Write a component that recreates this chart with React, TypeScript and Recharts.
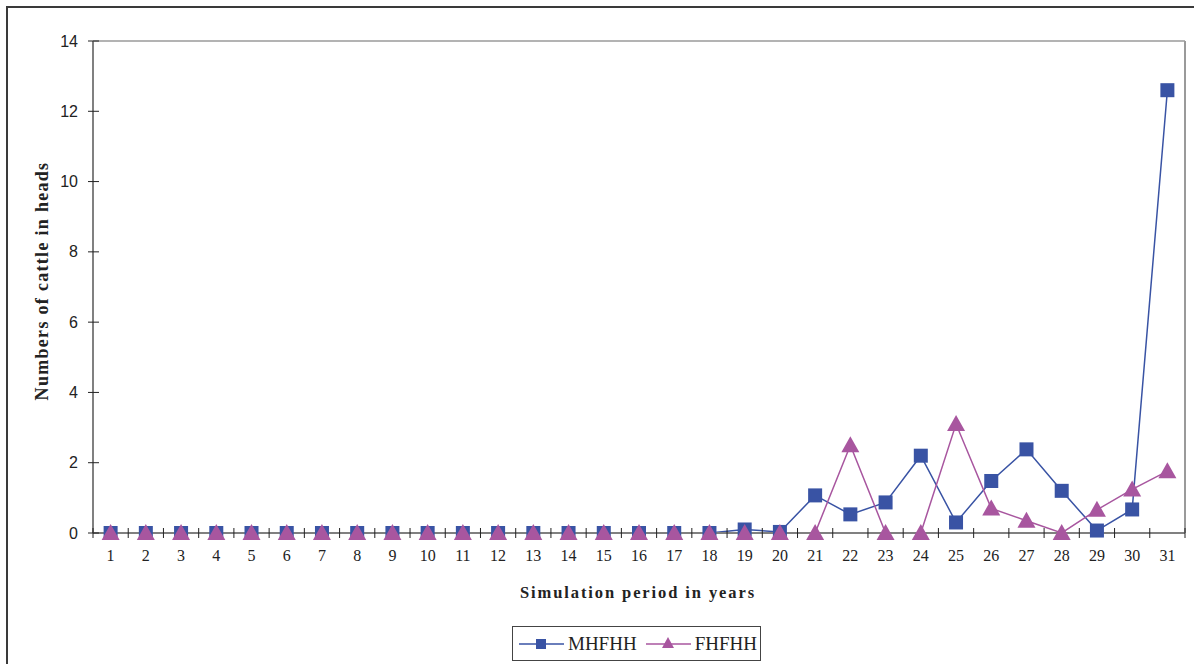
import React from "react";
import { LineChart, Line, XAxis, YAxis, ReferenceLine } from "recharts";

const years = [1,2,3,4,5,6,7,8,9,10,11,12,13,14,15,16,17,18,19,20,21,22,23,24,25,26,27,28,29,30,31];
const mhfhh = [0,0,0,0,0,0,0,0,0,0,0,0,0,0,0,0,0,0,0.1,0.03,1.07,0.53,0.87,2.2,0.3,1.48,2.38,1.2,0.07,0.67,12.6];
const fhfhh = [0,0,0,0,0,0,0,0,0,0,0,0,0,0,0,0,0,0,0,0,0,2.5,0,0,3.1,0.7,0.35,0,0.66,1.24,1.76];
const yTicks = [0,2,4,6,8,10,12,14];
const xBoundaries = [0.5,1.5,2.5,3.5,4.5,5.5,6.5,7.5,8.5,9.5,10.5,11.5,12.5,13.5,14.5,15.5,16.5,17.5,18.5,19.5,20.5,21.5,22.5,23.5,24.5,25.5,26.5,27.5,28.5,29.5,30.5,31.5];
const xTicks = [...years, ...xBoundaries].sort((a, b) => a - b);

const BLUE = "#3953A4";
const PURPLE = "#A8569F";

const data = years.map((y, i) => ({ year: y, MHFHH: mhfhh[i], FHFHH: fhfhh[i] }));

const SquareDot = (props: any) => {
  const { cx, cy } = props;
  if (cx == null || cy == null) return null;
  return <rect x={cx - 7} y={cy - 7} width={14} height={14} fill={BLUE} />;
};

const TriangleDot = (props: any) => {
  const { cx, cy } = props;
  if (cx == null || cy == null) return null;
  return <polygon points={`${cx},${cy - 9} ${cx - 9},${cy + 7} ${cx + 9},${cy + 7}`} fill={PURPLE} />;
};

const XTick = (props: any) => {
  const { x, y, payload } = props;
  const v = payload.value;
  if (Number.isInteger(v)) {
    return (
      <text x={x} y={y + 28} textAnchor="middle" fontFamily="'Liberation Serif', 'Times New Roman', serif" fontSize={16} fill="#222">
        {v}
      </text>
    );
  }
  return <line x1={x} x2={x} y1={y - 5} y2={y + 5} stroke="#222" strokeWidth={1} />;
};

const YTick = (props: any) => {
  const { x, y, payload } = props;
  return (
    <g>
      <line x1={x - 5} x2={x + 6} y1={y} y2={y} stroke="#222" strokeWidth={1} />
      <text x={x - 15} y={y + 5.5} textAnchor="end" fontFamily="'Liberation Sans', Arial, sans-serif" fontSize={16} fill="#222">
        {payload.value}
      </text>
    </g>
  );
};

const legendItems = [
  { name: "MHFHH", color: BLUE, shape: "square" },
  { name: "FHFHH", color: PURPLE, shape: "triangle" },
];

export default function App() {
  return (
    <div style={{ position: "fixed", left: 0, top: 0, width: 1194, height: 664, overflow: "hidden", background: "#fff" }}>
      <div style={{ position: "absolute", left: 6, top: 6, width: 1300, height: 800, border: "2px solid #3a3a3a" }} />
      <div style={{ position: "absolute", left: 0, top: 0 }}>
        <LineChart width={1194} height={664} data={data} margin={{ top: 41, right: 9, left: 0, bottom: 61 }}>
          <XAxis
            dataKey="year"
            type="number"
            domain={[0.5, 31.5]}
            ticks={xTicks}
            interval={0}
            tickLine={false}
            tickSize={0}
            tickMargin={0}
            tick={<XTick />}
            axisLine={{ stroke: "#808080", strokeWidth: 2 }}
            height={70}
            label={() => (
              <text x={638} y={598} textAnchor="middle" fontFamily="'Liberation Serif', 'Times New Roman', serif" fontSize={16.5} fontWeight="bold" letterSpacing={1.9} fill="#222">
                Simulation period in years
              </text>
            )}
          />
          <YAxis
            type="number"
            domain={[0, 14]}
            ticks={yTicks}
            interval={0}
            width={93}
            tickLine={false}
            tickSize={0}
            tickMargin={0}
            tick={<YTick />}
            axisLine={{ stroke: "#808080", strokeWidth: 2 }}
            label={() => (
              <text x={48} y={281} textAnchor="middle" transform="rotate(-90 48 281)" fontFamily="'Liberation Serif', 'Times New Roman', serif" fontSize={18} fontWeight="bold" letterSpacing={1.3} fill="#222">
                Numbers of cattle in heads
              </text>
            )}
          />
          <ReferenceLine y={14} stroke="#9a9a9a" strokeWidth={1.5} ifOverflow="visible" />
          <ReferenceLine x={31.5} stroke="#9a9a9a" strokeWidth={2} ifOverflow="visible" />
          <Line dataKey="MHFHH" stroke={BLUE} strokeWidth={1.5} dot={<SquareDot />} activeDot={false} isAnimationActive={false} />
          <Line dataKey="FHFHH" stroke={PURPLE} strokeWidth={1.5} dot={<TriangleDot />} activeDot={false} isAnimationActive={false} />
        </LineChart>
      </div>
      <div
        style={{
          position: "absolute",
          left: 512,
          top: 626,
          width: 247,
          height: 33,
          border: "1px solid #444",
          display: "flex",
          alignItems: "center",
          fontFamily: "'Liberation Serif', 'Times New Roman', serif",
          fontSize: 19,
          color: "#222",
          background: "#fff",
        }}
      >
        {legendItems.map((it, i) => (
          <div key={it.name} style={{ display: "flex", alignItems: "center", marginLeft: i === 0 ? 6 : 9 }}>
            <svg width={45} height={20}>
              <line x1={0} x2={45} y1={10} y2={10} stroke={it.color} strokeWidth={1.5} />
              {it.shape === "square" ? (
                <rect x={17} y={5} width={10} height={10} fill={it.color} />
              ) : (
                <polygon points="22,3 16,14 28,14" fill={it.color} />
              )}
            </svg>
            <span style={{ marginLeft: 4 }}>{it.name}</span>
          </div>
        ))}
      </div>
    </div>
  );
}
